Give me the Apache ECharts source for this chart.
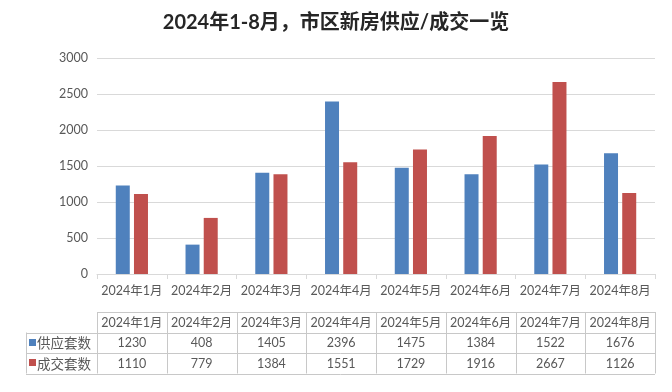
<!DOCTYPE html>
<html><head><meta charset="utf-8">
<script src="https://cdn.jsdelivr.net/npm/echarts@6/dist/echarts.min.js"></script>
<style>html,body{margin:0;padding:0;background:#fff}#c{width:672px;height:392px}</style>
</head><body><div id="c"></div>
<script>
const categories = ['2024年1月','2024年2月','2024年3月','2024年4月','2024年5月','2024年6月','2024年7月','2024年8月'];
const supply = [1230,408,1405,2396,1475,1384,1522,1676];
const deals = [1110,779,1384,1551,1729,1916,2667,1126];
const seriesNames = ['供应套数','成交套数'];
const yTicks = [0,500,1000,1500,2000,2500,3000];
const titleText = '2024年1-8月，市区新房供应/成交一览';

const colors = ['#4F81BD','#C0504D'];
const FONT = 'Lato, "Noto Sans CJK SC", sans-serif';
const TXT = '#595959';
const chart = echarts.init(document.getElementById('c'));
chart.setOption({
  backgroundColor:'#fff',
  animation:false,
  title:{text:titleText,left:'center',top:8,textStyle:{fontSize:20,fontWeight:'bold',color:'#262626',fontFamily:FONT}},
  grid:{left:97,right:17,top:58,bottom:118},
  xAxis:{type:'category',data:categories,
    axisLine:{lineStyle:{color:'#d9d9d9'}},
    axisTick:{show:true,length:5,interval:0,lineStyle:{color:'#d9d9d9'}},
    axisLabel:{color:TXT,fontSize:12.5,fontFamily:FONT,margin:11,interval:0,hideOverlap:false}},
  yAxis:{type:'value',min:yTicks[0],max:yTicks[yTicks.length-1],interval:500,
    axisLine:{show:false},axisTick:{show:false},
    splitLine:{lineStyle:{color:'#d9d9d9'}},
    axisLabel:{color:TXT,fontSize:12.5,fontFamily:FONT,margin:9,formatter:v=>String(v)}},
  series:[
    {name:seriesNames[0],type:'bar',data:supply,barWidth:14,barGap:'30%',itemStyle:{color:colors[0]}},
    {name:seriesNames[1],type:'bar',data:deals,barWidth:14,barGap:'30%',itemStyle:{color:colors[1]}}
  ]
});

// data table under the chart, positioned from the axis scales
const c0 = chart.convertToPixel({xAxisIndex:0}, 0);
const c1 = chart.convertToPixel({xAxisIndex:0}, 1);
const band = c1 - c0;
const y0 = chart.convertToPixel({yAxisIndex:0}, 0);
const leftEdge = c0 - band/2;
const rightEdge = chart.convertToPixel({xAxisIndex:0}, categories.length-1) + band/2;
const rowTop = y0 + 38, rowH = 20.5;
const tableLeft = 26;
const lineStyle = {stroke:'#c8c8c8',lineWidth:1};
const g = [];
function hline(x1,x2,y){g.push({type:'line',shape:{x1:x1,y1:Math.round(y)+0.5,x2:x2,y2:Math.round(y)+0.5},style:lineStyle,silent:true});}
function vline(x,y1,y2){g.push({type:'line',shape:{x1:Math.round(x)+0.5,y1:y1,x2:Math.round(x)+0.5,y2:y2},style:lineStyle,silent:true});}
hline(leftEdge,rightEdge,rowTop);
hline(tableLeft,rightEdge,rowTop+rowH);
hline(tableLeft,rightEdge,rowTop+2*rowH);
hline(tableLeft,rightEdge,rowTop+3*rowH);
vline(tableLeft,rowTop+rowH,rowTop+3*rowH);
for(let i=0;i<=categories.length;i++){vline(leftEdge+i*band,rowTop,rowTop+3*rowH);}
const rows=[categories,supply,deals];
rows.forEach((r,ri)=>{
  r.forEach((v,i)=>{
    g.push({type:'text',x:c0+i*band,y:rowTop+ri*rowH+rowH/2+0.5,silent:true,
      style:{text:String(v),fill:TXT,font:'12.5px '+FONT,textAlign:'center',textVerticalAlign:'middle'}});
  });
});
seriesNames.forEach((n,si)=>{
  const yc = rowTop+(si+1)*rowH+rowH/2;
  g.push({type:'rect',shape:{x:tableLeft+3,y:Math.round(yc)-4,width:7,height:7},style:{fill:colors[si]},silent:true});
  g.push({type:'text',x:tableLeft+11,y:yc+0.5,silent:true,
    style:{text:n,fill:TXT,font:'13.5px "Noto Sans CJK SC", sans-serif',textAlign:'left',textVerticalAlign:'middle'}});
});
chart.setOption({graphic:g});
</script></body></html>
